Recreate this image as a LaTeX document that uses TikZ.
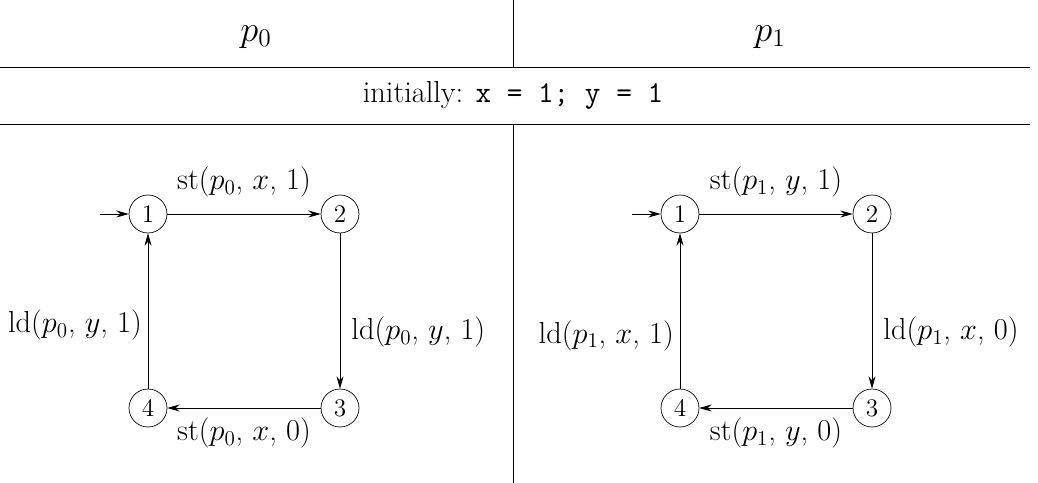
\documentclass[tikz,border=0pt]{standalone}
\usepackage{tikz}
\usetikzlibrary{arrows.meta,positioning}
\begin{document}
\begin{tikzpicture}[x=0.02cm,y=-0.02cm,
    state/.style={circle, draw, minimum size=0.76cm, inner sep=0pt, font=\Large},
    lbl/.style={font=\LARGE},
    edge/.style={-{Stealth[length=7pt,width=4pt]}}]
\useasboundingbox (0,0) rectangle (1038,483);
\draw (0,67) -- (1030,67);
\draw (0,124) -- (1030,124);
\draw (513,0) -- (513,67);
\draw (513,124) -- (513,483);
\node[font=\huge] (h0) at (256,37) {$p_0$};
\node[font=\huge] (h1) at (770,37) {$p_1$};
\node[lbl] (init) at (513,95) {initially: \texttt{x = 1; y = 1}};
% p0
\node[state] (a1) at (148,214) {1};
\node[state] (a2) at (340,214) {2};
\node[state] (a3) at (340,408) {3};
\node[state] (a4) at (148,408) {4};
\coordinate (a0) at (100,214);
\draw[edge] (a0) -- (a1);
\draw[edge] (a1) -- node[lbl, above, yshift=6pt] {st($p_0$, $x$, 1)} (a2);
\draw[edge] (a2) -- node[lbl, right, xshift=3pt, yshift=-12pt] {ld($p_0$, $y$, 1)} (a3);
\draw[edge] (a3) -- node[lbl, below, yshift=-2pt] {st($p_0$, $x$, 0)} (a4);
\draw[edge] (a4) -- node[lbl, left, yshift=-8pt] {ld($p_0$, $y$, 1)} (a1);
% p1
\node[state] (b1) at (680,214) {1};
\node[state] (b2) at (872,214) {2};
\node[state] (b3) at (872,408) {3};
\node[state] (b4) at (680,408) {4};
\coordinate (b0) at (632,214);
\draw[edge] (b0) -- (b1);
\draw[edge] (b1) -- node[lbl, above, yshift=6pt] {st($p_1$, $y$, 1)} (b2);
\draw[edge] (b2) -- node[lbl, right, xshift=3pt, yshift=-12pt] {ld($p_1$, $x$, 0)} (b3);
\draw[edge] (b3) -- node[lbl, below, yshift=-2pt] {st($p_1$, $y$, 0)} (b4);
\draw[edge] (b4) -- node[lbl, left, yshift=-14pt] {ld($p_1$, $x$, 1)} (b1);
\end{tikzpicture}
\end{document}
